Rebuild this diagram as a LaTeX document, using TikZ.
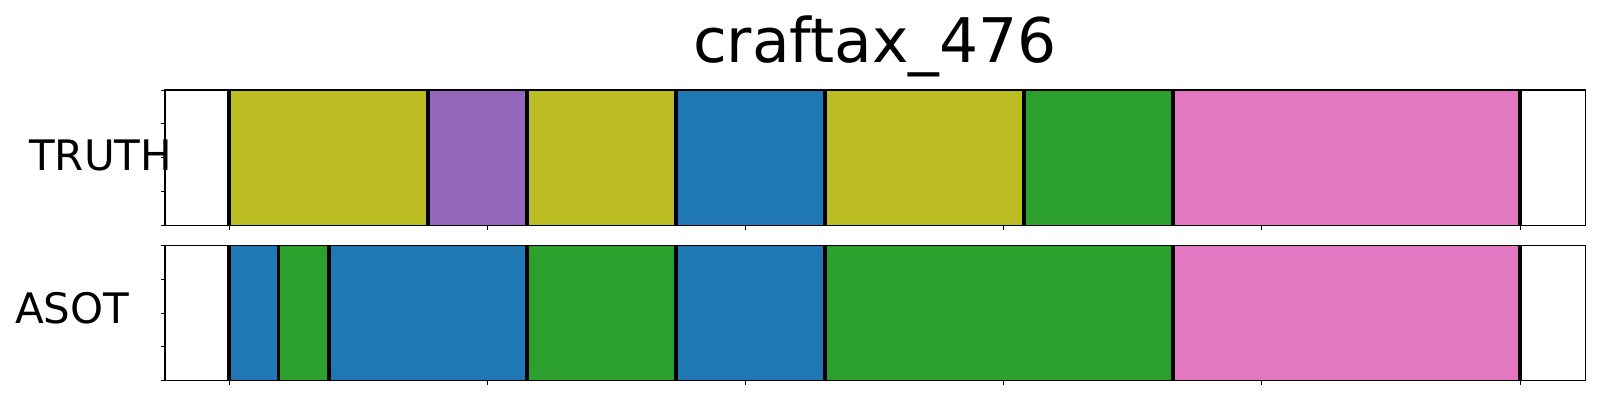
\documentclass[tikz,border=0pt]{standalone}
\usepackage{fontspec}
\setmainfont{DejaVu Sans}
\definecolor{tabolive}{HTML}{BCBD22}
\definecolor{tabpurple}{HTML}{9467BD}
\definecolor{tabblue}{HTML}{1F77B4}
\definecolor{tabgreen}{HTML}{2CA02C}
\definecolor{tabpink}{HTML}{E377C2}
\tikzset{
  segline/.style={line width=3.8pt, black},
  frame/.style={line width=1.2pt, black},
  tickmark/.style={line width=1pt, black},
  lbl/.style={inner sep=0pt, font=\fontsize{42}{42}\selectfont},
}
\begin{document}
\begin{tikzpicture}[x=1pt,y=-1pt]
\useasboundingbox (0,0) rectangle (1600,400);
\fill[white] (0,0) rectangle (1600,400);
% title
\node[inner sep=0pt, anchor=base, font=\fontsize{61.5}{61.5}\selectfont] (title) at (875,62) {craftax\_476};
% labels
\node[lbl, anchor=base west] (truth) at (29,170) {TRUTH};
\node[lbl, anchor=base west] (asot) at (15,323.3) {ASOT};
% top axis segments
\def\ta{90}\def\tb{225.3}
\fill[tabolive]  (229,\ta) rectangle (427.7,\tb);
\fill[tabpurple] (427.7,\ta) rectangle (527,\tb);
\fill[tabolive]  (527,\ta) rectangle (676,\tb);
\fill[tabblue]   (676,\ta) rectangle (825,\tb);
\fill[tabolive]  (825,\ta) rectangle (1024,\tb);
\fill[tabgreen]  (1024,\ta) rectangle (1173,\tb);
\fill[tabpink]   (1173,\ta) rectangle (1520,\tb);
\foreach \x in {229,427.7,527,676,825,1024,1173,1520}
  \draw[segline] (\x,\ta) -- (\x,\tb);
% bottom axis segments
\def\ba{245.5}\def\bb{380.5}
\fill[tabblue]   (229,\ba) rectangle (278.5,\bb);
\fill[tabgreen]  (278.5,\ba) rectangle (328.7,\bb);
\fill[tabblue]   (328.7,\ba) rectangle (527,\bb);
\fill[tabgreen]  (527,\ba) rectangle (676,\bb);
\fill[tabblue]   (676,\ba) rectangle (825,\bb);
\fill[tabgreen]  (825,\ba) rectangle (1173,\bb);
\fill[tabpink]   (1173,\ba) rectangle (1520,\bb);
\foreach \x in {229,278.5,328.7,527,676,825,1173,1520}
  \draw[segline] (\x,\ba) -- (\x,\bb);
% frames
\draw[frame] (165,\ta) rectangle (1585.3,\tb);
\draw[frame] (165,\ba) rectangle (1585.3,\bb);
% y ticks
\foreach \k in {0,...,4} {
  \draw[tickmark] (165,{\ta+\k*(\tb-\ta)/4}) -- ++(-4.5,0);
  \draw[tickmark] (165,{\ba+\k*(\bb-\ba)/4}) -- ++(-4.5,0);
}
% x ticks
\foreach \k in {0,...,5} {
  \draw[tickmark] ({229+\k*258.2},\tb) -- ++(0,4.5);
  \draw[tickmark] ({229+\k*258.2},\bb) -- ++(0,4.5);
}
\end{tikzpicture}
\end{document}
